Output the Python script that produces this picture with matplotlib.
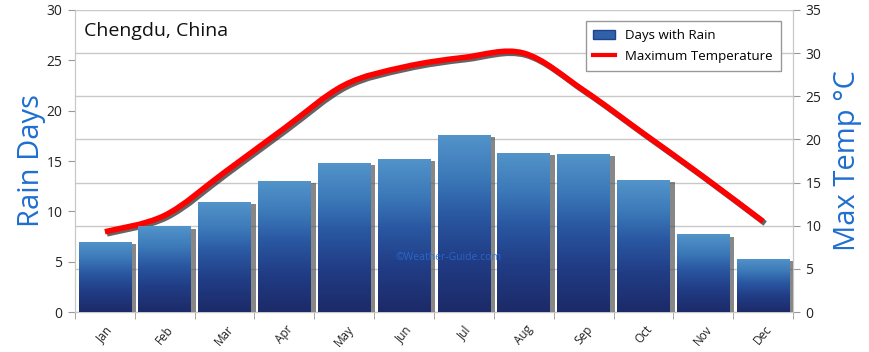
import numpy as np
import matplotlib
matplotlib.use('Agg')
import matplotlib.pyplot as plt
from matplotlib.path import Path
from matplotlib.patches import PathPatch, Patch
from matplotlib.lines import Line2D
from matplotlib.colors import LinearSegmentedColormap
import matplotlib.patheffects as pe

months = ['Jan', 'Feb', 'Mar', 'Apr', 'May', 'Jun', 'Jul', 'Aug', 'Sep', 'Oct', 'Nov', 'Dec']
rain_days = [7.0, 8.5, 10.9, 13.0, 14.8, 15.2, 17.6, 15.8, 15.7, 13.1, 7.7, 5.3]
max_temp = [9.3, 11.2, 16.2, 21.3, 26.3, 28.4, 29.5, 30.0, 25.7, 20.7, 15.7, 10.5]
rain_ticks = [0, 5, 10, 15, 20, 25, 30]
temp_ticks = [0, 5, 10, 15, 20, 25, 30, 35]

plt.rcParams['font.family'] = ['Open Sans', 'DejaVu Sans']
blue_txt = '#1f6fd0'
grid_c = '#c8c8c8'

fig = plt.figure(figsize=(8.7, 3.52), dpi=100)
ax = fig.add_axes([0.0862, 0.1136, 0.8253, 0.858])
ax2 = ax.twinx()
ax.set_zorder(2)
ax.patch.set_visible(False)

x = np.arange(len(months))

# gridlines follow the temperature axis, behind everything
ax2.set_ylim(0, 35)
ax2.set_yticks(temp_ticks)
ax2.grid(True, axis='y', color=grid_c, lw=1)
ax2.set_axisbelow(True)

# bars with gradient fill and shadow
cmap = LinearSegmentedColormap.from_list('b', [(0, '#1c2a68'), (0.3, '#213d86'), (0.55, '#2a58a2'),
                                               (0.75, '#3b78b8'), (1, '#5394ca')])
bars = ax.bar(x, rain_days, width=0.88, color='#22428e', zorder=2,
              path_effects=[pe.SimplePatchShadow(offset=(3.5, -1.5), shadow_rgbFace='#555555', alpha=0.7), pe.Normal()])
grad = np.linspace(0, 1, 256).reshape(-1, 1)
for b in bars:
    x0 = b.get_x()
    im = ax.imshow(grad, extent=[x0, x0 + b.get_width(), 0, b.get_height()], origin='lower',
                   aspect='auto', cmap=cmap, zorder=3)
    im.set_clip_path(b)

ax.set_xlim(-0.5, 11.5)
ax.set_ylim(0, 30)
ax.set_yticks(rain_ticks)

# smooth temperature curve (Catmull-Rom bezier through the data points)
px = np.array(x, dtype=float)
py = np.array(max_temp)
verts = [(px[0], py[0])]
codes = [Path.MOVETO]
n = len(px)
for i in range(n - 1):
    p0 = (px[max(i - 1, 0)], py[max(i - 1, 0)])
    p1 = (px[i], py[i])
    p2 = (px[i + 1], py[i + 1])
    p3 = (px[min(i + 2, n - 1)], py[min(i + 2, n - 1)])
    c1 = (p1[0] + (p2[0] - p0[0]) / 6, p1[1] + (p2[1] - p0[1]) / 6)
    c2 = (p2[0] - (p3[0] - p1[0]) / 6, p2[1] - (p3[1] - p1[1]) / 6)
    verts += [c1, c2, p2]
    codes += [Path.CURVE4] * 3
curve = PathPatch(Path(verts, codes), fill=False, edgecolor='#ff0000', lw=4, capstyle='butt',
                  joinstyle='round', zorder=4,
                  path_effects=[pe.SimpleLineShadow(offset=(1.5, -1.5), shadow_color='#222222', alpha=0.7), pe.Normal()])
ax2.add_patch(curve)

# spines and ticks
for a in (ax, ax2):
    for s in a.spines.values():
        s.set_color(grid_c)
    a.spines['top'].set_visible(False)
ax.tick_params(axis='y', length=5, color='#999999', labelsize=10, pad=4, labelcolor='#222222')
ax2.tick_params(axis='y', length=5, color='#999999', labelsize=10, pad=4, labelcolor='#222222')
ax.set_xticks(x)
ax.set_xticklabels(months, rotation=50, fontsize=8.5, ha='center', color='#222222')
ax.set_xticks(np.arange(-0.5, 12, 1), minor=True)
ax.tick_params(axis='x', which='major', length=0, pad=8)
ax.tick_params(axis='x', which='minor', length=5, color='#999999')

ax.set_ylabel('Rain Days', fontsize=21, color=blue_txt, labelpad=0)
ax2.set_ylabel('Max Temp °C', fontsize=21, color=blue_txt, labelpad=8)

ax.text(0.013, 0.93, 'Chengdu, China', transform=ax.transAxes, fontsize=14, color='#111111', va='center')
ax.text(0.52, 0.18, '©Weather-Guide.com', transform=ax.transAxes, fontsize=7.5, color='#2a6fd6',
        alpha=0.8, ha='center', va='center')

handles = [Patch(facecolor='#2f62a8', edgecolor='#22428e'), Line2D([], [], color='#ff0000', lw=3)]
leg = ax.legend(handles, ['Days with Rain', 'Maximum Temperature'], loc='upper right',
                bbox_to_anchor=(0.992, 0.985), fontsize=9.5, fancybox=False, framealpha=1,
                edgecolor='#999999', handlelength=1.6, borderpad=0.6, labelspacing=0.6)
leg.get_frame().set_linewidth(1)

fig.savefig('out.png', dpi=100, facecolor='white')
